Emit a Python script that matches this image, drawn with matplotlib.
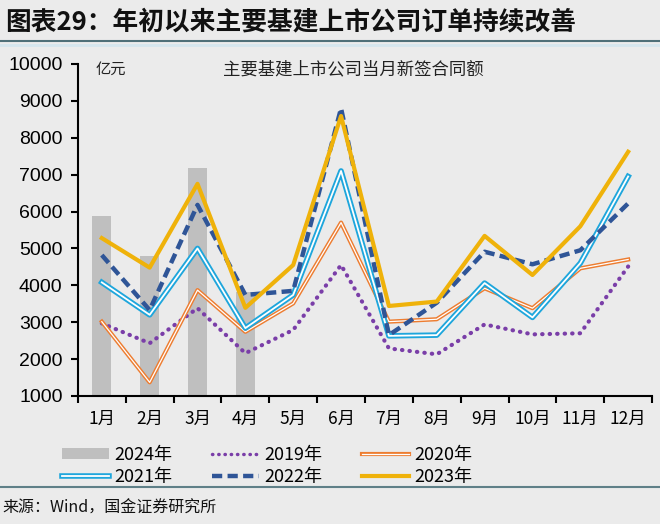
import numpy as np
import matplotlib
matplotlib.use('Agg')
import matplotlib.pyplot as plt
import matplotlib.patheffects as pe
from matplotlib.patches import Patch
from matplotlib.lines import Line2D

plt.rcParams['font.family'] = ['Noto Sans CJK SC', 'DejaVu Sans']

# 数据（亿元）
months = ['1月', '2月', '3月', '4月', '5月', '6月', '7月', '8月', '9月', '10月', '11月', '12月']
y2024 = [5890, 4800, 7170, 3830]
y2019 = [2970, 2430, 3380, 2160, 2790, 4550, 2290, 2130, 2940, 2670, 2700, 4510]
y2020 = [3015, 1370, 3870, 2740, 3510, 5700, 3015, 3080, 3920, 3380, 4460, 4700]
y2021 = [4080, 3200, 5000, 2840, 3740, 7100, 2630, 2650, 4060, 3130, 4600, 6950]
y2022 = [4820, 3330, 6180, 3740, 3850, 8800, 2650, 3530, 4910, 4570, 4950, 6220]
y2023 = [5280, 4480, 6750, 3390, 4550, 8590, 3440, 3560, 5340, 4280, 5600, 7620]

bg = '#ebebeb'
c_bar = '#bfbfbf'
c19 = '#7a3ea8'
c20 = '#ed7d31'
c21 = '#1ea6dc'
c22 = '#2f5597'
c23 = '#efb20a'

fig = plt.figure(figsize=(6.6, 5.24), dpi=100, facecolor=bg)
ax = fig.add_axes([0.118, 0.2443, 0.870, 0.6336], facecolor=bg)

x = np.arange(len(months))
ax.bar(x[:len(y2024)], y2024, width=0.4, color=c_bar, bottom=0, zorder=1)

ax.plot(x, y2019, color=c19, lw=3.0, linestyle=(0, (0.1, 1.7)),
        dash_capstyle='round', zorder=2)
ax.plot(x, y2020, color='white', lw=0.9, zorder=3,
        path_effects=[pe.withStroke(linewidth=3.0, foreground=c20)])
ax.plot(x, y2021, color='white', lw=1.3, zorder=4,
        path_effects=[pe.withStroke(linewidth=4.0, foreground=c21)])
ax.plot(x, y2022, color=c22, lw=3.2, linestyle=(0, (2.3, 1.2)), zorder=5)
ax.plot(x, y2023, color=c23, lw=3.0, zorder=6)

ax.set_xlim(-0.5, 11.5)
ax.set_ylim(1000, 10000)
ax.set_yticks(range(1000, 10001, 1000))
ax.tick_params(axis='y', labelsize=14, length=5, width=1.5, direction='out', pad=6)
ax.set_xticks(x)
ax.set_xticklabels(months, fontsize=12.5)
ax.tick_params(axis='x', which='major', length=0, pad=10)
ax.set_xticks(np.arange(-0.5, 12, 1), minor=True)
ax.tick_params(axis='x', which='minor', length=5, width=1.5, direction='out')
for lab in ax.get_yticklabels():
    lab.set_family(['Liberation Sans', 'DejaVu Sans'])
for s in ['top', 'right']:
    ax.spines[s].set_visible(False)
for s in ['left', 'bottom']:
    ax.spines[s].set_linewidth(1.5)
    ax.spines[s].set_color('black')

ax.text(0.03, 0.985, '亿元', transform=ax.transAxes, fontsize=11, va='center', ha='left', color='#222222')
ax.text(0.48, 0.985, '主要基建上市公司当月新签合同额', transform=ax.transAxes,
        fontsize=12.5, va='center', ha='center', color='#222222')

# 图例（按列填充，所以顺序交错）
h24 = Patch(facecolor=c_bar, edgecolor='none')
h19 = Line2D([], [], color=c19, lw=2.5, linestyle=(0, (0.1, 1.7)), dash_capstyle='round')
h20 = Line2D([], [], color='white', lw=0.9, path_effects=[pe.withStroke(linewidth=3.0, foreground=c20)])
h21 = Line2D([], [], color='white', lw=1.3, path_effects=[pe.withStroke(linewidth=4.0, foreground=c21)])
h22 = Line2D([], [], color=c22, lw=3.2, linestyle=(0, (2.3, 1.2)))
h23 = Line2D([], [], color=c23, lw=3.0)
handles = [h24, h21, h19, h22, h20, h23]
labels = ['2024年', '2021年', '2019年', '2022年', '2020年', '2023年']
fig.legend(handles, labels, ncol=3, loc='center', bbox_to_anchor=(0.405, 0.111),
           frameon=False, fontsize=13, handlelength=2.6, handletextpad=0.3,
           columnspacing=2.2, labelspacing=0.2, handleheight=0.6)

# 标题和来源
fig.text(0.008, 0.958, '图表29：年初以来主要基建上市公司订单持续改善', fontsize=18.5,
         fontweight='bold', ha='left', va='center', color='#111111')
fig.add_artist(Line2D([0, 1], [0.921, 0.921], transform=fig.transFigure, color='#4f6f78', lw=1.5))
fig.add_artist(Line2D([0, 1], [0.915, 0.915], transform=fig.transFigure, color='#d5e6ee', lw=2))
fig.add_artist(Line2D([0, 1], [0.071, 0.071], transform=fig.transFigure, color='#5f8088', lw=1.5))
fig.text(0.004, 0.03, '来源：Wind，国金证券研究所', fontsize=11.5, ha='left', va='center', color='#111111')

fig.savefig('out.png', dpi=100, facecolor=bg)
